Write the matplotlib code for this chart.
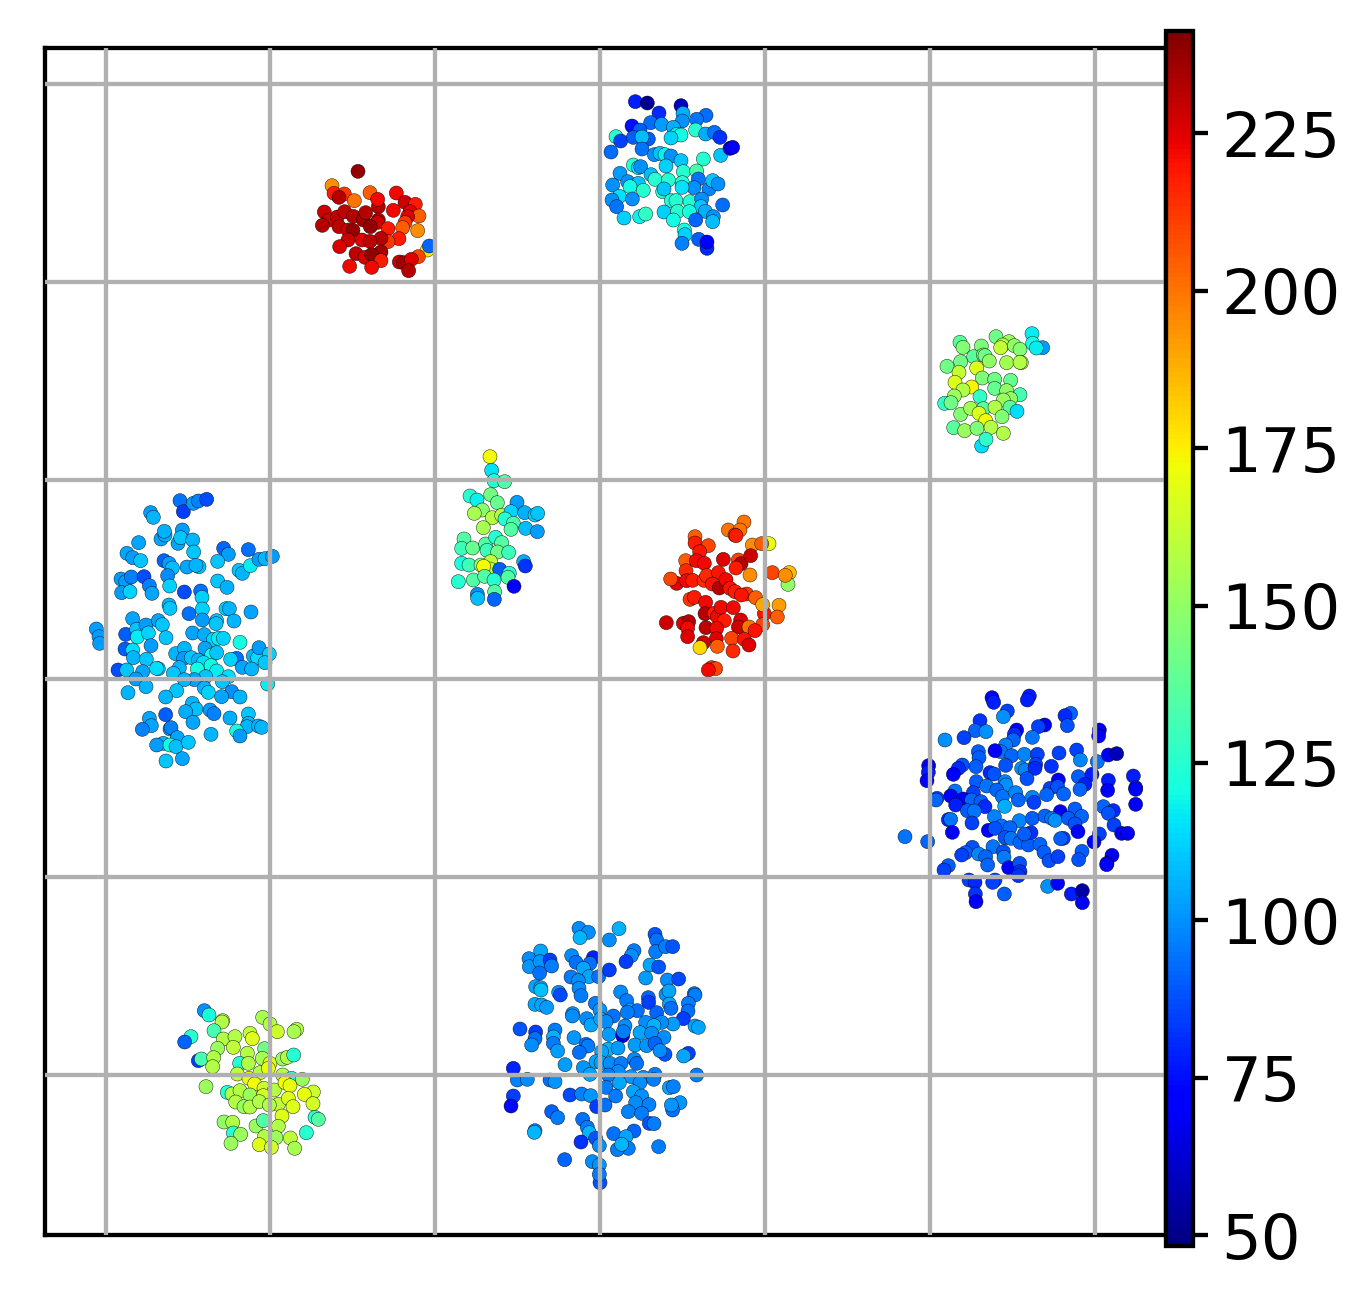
import numpy as np
import matplotlib
matplotlib.use("Agg")
import matplotlib.pyplot as plt

# axis units are arbitrary (no tick labels on the chart), each cluster is x, y, value
x_grid = [318, 810, 1305, 1800, 2295, 2790, 3285]
y_grid = [252, 846, 1440, 2037, 2631, 3225]
cbar_ticks = [50, 75, 100, 125, 150, 175, 200, 225]

cluster_a = [(285,32,93),(295,65,82),(325,40,100),(340,33,95),(365,28,85),(197,68,100),(205,82,105),(228,147,102),(240,135,103),(238,124,104),(292,120,100),(279,160,102),(287,143,108),(323,150,105),(326,186,108),(161,158,102),(126,190,102),(143,203,100),(167,212,108),(237,212,90),(252,220,100),(262,234,106),(306,231,102),(342,230,108),(333,226,105),(416,175,90),(430,193,100),(398,214,108),(490,179,92),(462,241,108),(472,250,105),(496,227,115),(522,208,100),(540,206,105),(562,199,100),
    (108,267,100),(122,275,100),(139,261,95),(177,260,85),(193,287,95),(201,310,102),(110,308,100),(135,305,110),(248,257,97),(254,288,110),(298,306,85),(347,303,92),(351,322,110),(398,273,108),(426,292,104),(252,345,105),(255,355,108),(312,371,92),(352,357,110),(352,390,100),(423,356,110),(433,356,105),(395,392,108),(393,401,108),(447,393,105),(498,366,102),(143,386,102),(34,417,100),(42,440,100),(44,460,100),(122,433,88),(155,418,108),(183,405,100),(220,392,102),(232,404,108),(157,441,115),(190,429,110),(243,443,108),(323,429,102),(358,434,103),(385,448,110),(400,445,115),(415,445,110),(465,457,118),(120,477,88),(143,480,112),(145,503,105),(198,467,100),(184,508,108),(272,491,105),(298,475,105),(296,505,100),(319,503,108),(360,475,102),(380,495,118),(395,488,108),(340,510,105),(355,518,112),(378,527,118),(455,505,92),(437,508,110),(505,498,105),(518,504,112),(522,473,100),(553,492,110),(540,518,108),(472,532,102),(500,537,105),(99,540,85),(125,540,108),(173,545,102),(153,567,100),(220,536,108),(215,535,112),(283,533,105),(265,550,108),(337,537,118),(395,543,115),(362,560,108),(328,569,102),(298,569,105),(430,560,112),(412,575,108),(183,590,105),(129,608,105),(275,602,108),(242,621,105),(358,594,105),(370,607,110),(440,605,98),(410,620,102),(465,621,105),(548,582,115),(322,640,105),(333,657,107),(302,665,103),(375,660,100),(387,671,95),(193,685,102),(199,707,102),(172,718,95),(242,674,88),(255,717,102),(258,713,95),(324,697,102),(435,684,103),(490,672,108),(490,700,105),(486,710,105),(520,708,104),(530,712,105),(455,723,118),(465,738,100),(378,733,105),(277,743,102),(235,760,105),(215,765,100),(255,765,118),(273,770,107),(310,757,108),(243,813,108),(292,806,102)]

cluster_b = [(291,38,72),(296,52,78),(403,33,78),(397,45,78),(337,78,85),(325,95,100),(527,85,92),(510,92,80),(449,120,68),(430,125,85),(517,122,88),(255,107,82),(241,137,92),(273,140,100),(150,165,100),(207,158,85),(365,135,70),(358,148,80),(355,165,92),(412,157,95),(613,135,68),(611,153,70),(332,180,97),(317,200,95),(300,197,72),(350,212,92),(388,208,98),(427,208,85),(492,204,85),(545,195,85),(556,225,98),(607,230,95),(640,210,72),(665,206,58),(250,200,90),(252,218,90),(243,245,90),(202,240,88),(190,250,80),(175,268,70),(101,242,68),(100,262,78),(96,287,70),(332,241,88),(380,250,100),(390,255,98),(422,238,85),(420,250,80),(469,244,82),(396,281,88),(285,263,80),(297,267,88),(490,285,70),(550,275,90),(591,268,78),(570,298,78),(555,313,92),(640,286,78),(638,316,70),(715,273,78),(722,308,75),(722,313,70),(722,358,68),(244,290,90),(275,303,95),(330,290,98),(333,300,100),(465,310,85),(488,305,88),(506,327,92),(455,329,92),(305,315,92),(235,323,85),(180,318,95),(126,340,85),(123,345,92),(167,333,72),(205,342,68),(182,360,78),(230,345,92),(258,350,90),(270,365,80),(322,335,95),(362,323,98),(370,345,92),(412,337,98),(417,352,85),(329,364,105),(217,377,90),(238,378,95),(625,365,92),(655,377,80),(640,385,88),(496,380,72),(540,372,90),(560,394,92),(298,395,97),(373,407,98),(412,400,90),(450,393,92),(470,400,95),(480,406,100),(520,400,90),(540,417,88),(549,440,70),(160,404,80),(167,403,95),(231,414,85),(172,442,72),(280,436,72),(320,423,95),(345,428,92),(300,430,88),(657,420,85),(680,445,68),(698,445,70),(613,447,85),(597,471,72),(30,455,95),(98,470,92),(330,458,88),(348,460,95),(375,472,92),(400,480,90),(408,443,82),(388,447,90),(435,478,92),(505,460,85),(497,461,90),(294,485,95),(232,487,88),(212,503,90),(200,510,85),(251,507,98),(272,515,92),(325,500,88),(327,517,96),(278,540,92),(447,502,90),(462,527,88),(489,515,85),(561,499,90),(551,524,88),(651,511,68),(636,535,75),(635,539,72),(160,542,90),(147,555,85),(341,548,72),(374,535,88),(375,560,82),(370,572,82),(222,585,85),(240,592,80),(300,585,85),(293,592,85),(458,604,100),(488,595,72),(328,627,90),(241,627,82),(243,650,68),(529,627,78),(562,617,55),(562,653,68)]

cluster_c = [(237,40,95),(265,52,95),(240,68,103),(357,41,102),(328,75,95),(465,58,85),(470,75,90),(467,110,92),(497,95,92),(518,95,85),(402,107,92),(394,122,95),(378,140,80),(122,108,100),(87,131,95),(88,155,97),(120,140,97),(150,135,80),(155,153,92),(119,174,90),(215,122,95),(228,142,90),(280,128,75),(270,145,90),(250,160,100),(267,185,100),(296,185,90),(328,165,80),(450,150,100),(476,156,85),(437,189,98),(213,186,92),(235,197,95),(237,220,95),(243,242,92),(502,195,95),(536,192,82),(107,215,100),(122,218,100),(123,225,105),(176,232,97),(181,240,82),(362,231,95),(380,257,92),(445,248,88),(446,262,80),(498,238,97),(507,228,100),(508,267,100),(513,280,90),(583,236,92),(585,240,92),(565,265,92),(564,288,90),(105,268,100),(125,270,100),(140,277,98),(286,265,92),(300,285,97),(340,303,90),(392,285,100),(412,287,90),(382,292,92),(470,293,88),(218,296,97),(217,303,95),(260,311,95),(273,330,100),(302,312,100),(318,320,95),(550,311,80),(585,333,100),(595,337,100),(519,327,98),(485,322,95),(437,322,95),(462,332,102),(60,342,85),(107,351,80),(105,371,90),(95,390,95),(165,345,92),(160,366,102),(160,385,92),(173,408,98),(222,368,97),(327,358,98),(368,362,60),(375,333,95),(370,350,92),(420,353,100),(455,355,95),(492,367,95),(258,388,90),(264,393,92),(405,390,98),(440,392,97),(465,385,88),(495,418,85),(480,407,95),(238,412,90),(325,402,103),(354,399,98),(305,410,100),(565,415,80),(551,423,100),(195,449,98),(250,458,97),(288,440,100),(303,443,98),(330,445,95),(363,445,92),(403,433,95),(410,445,90),(40,460,75),(270,478,100),(355,470,95),(325,480,92),(393,485,97),(430,487,95),(465,478,92),(461,493,92),(590,480,92),(52,495,93),(82,493,95),(150,495,90),(165,500,97),(318,517,92),(358,503,100),(420,503,95),(508,518,100),(520,515,93),(400,530,100),(210,540,82),(245,537,93),(272,542,97),(347,543,92),(425,543,96),(407,563,95),(447,569,93),(40,543,80),(33,573,70),(290,575,80),(315,570,90),(385,590,93),(425,595,92),(540,563,97),(518,585,90),(514,570,97),(155,590,87),(173,608,92),(248,613,90),(448,625,85),(462,626,92),(262,637,92),(268,653,103),(402,648,88),(341,656,90),(378,665,100),(105,647,92),(103,652,103),(287,670,85),(243,681,78),(298,692,95),(385,700,92),(352,704,92),(365,688,103),(476,695,92),(194,734,88),(277,740,95),(298,750,97),(300,803,85),(298,778,92)]

cluster_d = [(103,32,100),(117,45,122),(158,62,160),(156,66,157),(132,92,132),(63,110,125),(44,126,92),(278,52,155),(300,72,158),(322,95,163),(380,88,157),(372,95,155),(160,117,157),(195,110,157),(240,100,160),(247,116,168),(143,145,152),(190,142,160),(232,160,158),(284,146,142),(85,182,85),(94,177,132),(131,173,157),(128,200,157),(209,190,125),(235,190,157),(277,175,155),(300,190,170),(338,177,152),(352,172,157),(371,165,125),(202,222,160),(237,235,170),(270,218,157),(295,205,170),(338,225,157),(365,235,125),(397,238,152),(108,260,152),(172,277,125),(186,282,157),(210,272,158),(254,252,172),(240,285,152),(282,265,163),(313,270,158),(345,248,172),(360,257,170),(430,276,163),(403,283,170),(197,306,157),(222,320,152),(240,321,157),(280,287,165),(268,305,157),(325,313,160),(355,295,168),(369,320,168),(429,311,165),(336,348,168),(298,315,157),(435,352,125),(445,358,135),(162,366,150),(188,367,157),(258,378,152),(280,362,135),(325,379,157),(190,399,125),(212,403,152),(409,398,125),(283,410,157),(318,413,152),(361,414,160),(183,430,152),(268,434,168),(304,442,165),(374,445,155)]

cluster_e = [(121,35,78),(157,39,52),(258,47,60),(192,69,80),(264,70,105),(333,76,93),(167,98,93),(200,103,102),(262,93,100),(305,88,95),(111,108,75),(135,120,90),(235,112,105),(245,133,118),(258,135,120),(228,144,112),(302,120,125),(332,132,105),(358,127,95),(375,142,82),(63,140,125),(77,153,85),(115,142,90),(160,147,90),(141,141,108),(48,186,93),(141,177,95),(178,194,100),(195,190,110),(210,194,118),(228,198,100),(377,196,110),(405,175,65),(413,172,68),(325,207,125),(258,212,110),(213,228,112),(115,225,125),(130,233,115),(137,230,100),(265,245,125),(305,243,133),(75,250,102),(168,254,108),(180,268,125),(220,270,125),(98,275,100),(262,278,125),(310,267,95),(130,280,110),(53,285,100),(105,290,120),(145,301,125),(297,293,100),(342,297,98),(353,272,110),(369,282,100),(261,292,115),(203,305,125),(207,297,110),(73,319,115),(51,330,100),(112,327,100),(65,350,95),(229,332,123),(243,332,125),(285,335,125),(320,327,100),(318,350,110),(383,345,93),(207,366,112),(248,364,125),(283,365,122),(331,364,105),(355,380,100),(87,384,112),(134,380,118),(152,372,128),(235,390,120),(302,390,92),(353,395,108),(268,420,122),(270,434,112),(261,460,97),(311,448,90),(336,475,80),(336,456,70)]

cluster_f = [(144,34,238),(66,77,195),(72,100,218),(103,102,212),(87,112,232),(133,122,200),(180,98,205),(259,99,222),(205,140,232),(203,118,222),(285,127,228),(316,133,218),(250,151,222),(300,155,225),(327,168,205),(293,170,225),(285,188,212),(278,203,205),(323,212,195),(43,156,228),(57,180,228),(37,196,232),(82,171,230),(87,200,230),(104,155,230),(130,169,232),(160,180,235),(167,158,232),(205,180,232),(203,187,228),(114,210,228),(129,211,238),(181,200,238),(234,206,218),(267,236,218),(234,245,212),(213,235,232),(156,240,225),(180,244,230),(114,240,228),(89,260,226),(138,281,230),(213,276,235),(165,292,226),(185,284,238),(213,302,218),(119,319,222),(185,322,222),(352,270,175),(358,258,92),(325,290,210),(268,306,228),(280,308,235),(304,298,225),(296,332,232)]

cluster_g = [(198,50,140),(237,65,150),(90,67,135),(99,82,145),(154,78,143),(218,75,155),(212,83,160),(253,77,148),(270,88,145),(306,41,115),(338,83,100),(308,70,118),(319,84,115),(131,110,135),(160,105,145),(165,107,140),(178,123,148),(230,128,152),(274,128,160),(270,127,155),(51,139,140),(92,125,140),(87,157,160),(140,144,165),(75,187,165),(157,174,143),(194,178,140),(242,181,138),(125,201,172),(99,210,155),(194,205,138),(230,212,148),(270,224,130),(242,236,148),(220,240,150),(73,228,150),(44,250,125),(63,248,140),(150,230,125),(92,283,145),(122,265,152),(160,266,135),(147,280,165),(195,262,155),(240,262,135),(261,274,112),(216,290,145),(167,302,170),(71,323,135),(104,332,150),(141,325,143),(183,322,155),(220,340,155),(155,378,112),(168,358,125)]

cluster_h = [(135,35,172),(140,76,115),(147,107,125),(179,110,135),(75,153,125),(96,165,118),(137,149,143),(157,173,140),(112,195,148),(88,205,155),(142,218,158),(170,211,158),(115,248,155),(216,172,102),(198,200,113),(239,203,106),(270,210,112),(278,205,110),(180,222,125),(205,235,133),(198,253,135),(242,250,108),(277,260,102),(57,282,135),(50,310,130),(83,309,140),(122,297,135),(152,277,125),(170,293,135),(126,316,130),(158,321,142),(191,322,130),(50,355,122),(72,360,130),(108,360,150),(137,350,160),(135,372,160),(164,373,90),(116,364,172),(236,350,105),(241,363,82),(193,385,125),(189,397,135),(40,410,125),(85,405,135),(119,394,135),(147,405,125),(207,424,72),(149,440,135),(97,448,100),(98,460,108),(148,463,92)]

cluster_i = [(267,36,200),(220,60,200),(255,60,200),(240,75,212),(243,77,218),(120,80,205),(120,99,218),(160,107,210),(134,125,220),(292,105,195),(342,101,170),(320,101,205),(92,152,205),(124,152,222),(148,160,222),(205,148,225),(250,150,210),(258,161,232),(243,174,218),(287,137,228),(93,182,215),(65,220,225),(47,207,210),(95,212,222),(113,211,218),(147,211,215),(155,197,215),(190,188,220),(172,222,220),(193,234,232),(213,209,222),(225,235,220),(240,245,218),(275,252,212),(259,255,220),(302,263,205),(352,188,210),(403,188,185),(285,195,195),(399,223,150),(391,196,195),(105,268,213),(118,262,218),(152,277,222),(150,311,232),(178,310,218),(187,320,222),(198,292,222),(235,293,222),(208,332,218),(257,330,225),(250,351,228),(282,351,200),(328,311,220),(323,284,190),(372,286,192),(367,321,205),(323,344,210),(300,362,220),(34,338,228),(85,340,225),(101,335,232),(98,354,222),(98,380,225),(153,353,230),(185,355,222),(184,386,225),(187,409,205),(145,398,228),(135,413,180),(230,385,210),(268,388,220),(282,405,225),(234,423,215),(170,473,215),(182,476,210),(160,480,222)]

clusters = [cluster_a, cluster_b, cluster_c, cluster_d, cluster_e,
            cluster_f, cluster_g, cluster_h, cluster_i]
origin_x = [255, 2685, 1500, 510, 1785, 930, 2790, 1335, 1965]
origin_y = [1470, 2055, 2745, 3000, 270, 480, 960, 1335, 1530]
# colours came out a bit dark for these clusters on the first pass
value_shift = [2, 0, 4, 0, 0, 0, 2, 0, 0]

W, H = 1370, 1300
fig = plt.figure(figsize=(W / 100, H / 100), dpi=100)
ax = fig.add_axes([45 / W, 1 - 1235 / H, (1166 - 45) / W, (1235 - 47.5) / H])

for cl, ox, oy, dv in zip(clusters, origin_x, origin_y, value_shift):
    pts = np.array(cl, dtype=float)
    sc = ax.scatter(pts[:, 0] + ox, pts[:, 1] + oy, c=pts[:, 2] + dv, cmap="jet",
                    vmin=48.3, vmax=241.3, s=102, edgecolors="k", linewidths=0.3,
                    zorder=1)

ax.set_xlim(135, 3498)
ax.set_ylim(3705, 142.5)
ax.set_xticks(x_grid)
ax.set_yticks(y_grid)
ax.grid(True, color="#b0b0b0", linewidth=3.1, zorder=3)
ax.set_axisbelow(False)
ax.tick_params(length=0, labelbottom=False, labelleft=False)
for s in ax.spines.values():
    s.set_linewidth(3.1)

cax = fig.add_axes([1166 / W, 1 - 1246 / H, 27 / W, (1246 - 30.5) / H])
cb = fig.colorbar(sc, cax=cax, ticks=cbar_ticks)
cb.outline.set_linewidth(3.1)
cb.ax.tick_params(labelsize=45, length=10.5, width=3.1, pad=10)

fig.savefig("out.png", dpi=100)
